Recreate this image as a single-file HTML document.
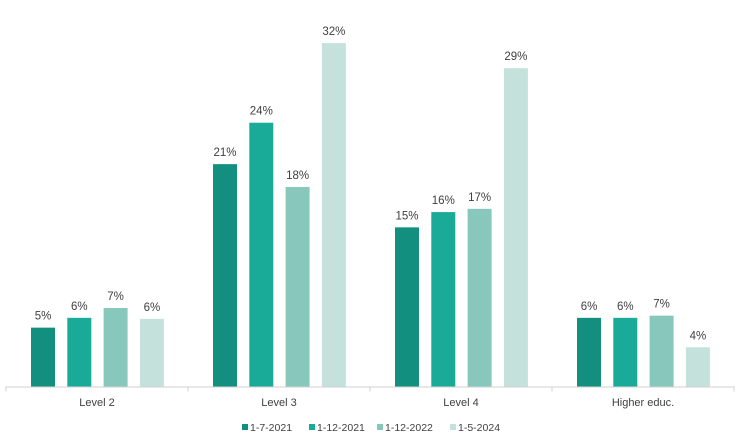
<!DOCTYPE html>
<html><head><meta charset="utf-8"><style>
body{margin:0;background:#fff;font-family:"Liberation Sans",sans-serif}
svg text{font-family:"Liberation Sans",sans-serif;fill:#404040}
</style></head><body>
<svg id="c" width="739" height="440"></svg>
<script>
const categories=["Level 2","Level 3","Level 4","Higher educ."];
const seriesNames=["1-7-2021","1-12-2021","1-12-2022","1-5-2024"];
const s2021a=[5.4,20.4,14.6,6.3];
const s2021b=[6.3,24.2,16.0,6.3];
const s2022=[7.2,18.3,16.3,6.5];
const s2024=[6.2,31.5,29.2,3.6];
const valueLabels=[["5%","21%","15%","6%"],["6%","24%","16%","6%"],["7%","18%","17%","7%"],["6%","32%","29%","4%"]];
const colors=["#138f80","#1aab98","#88c8bc","#c5e1dc"];
const series=[s2021a,s2021b,s2022,s2024];
const NS="http://www.w3.org/2000/svg";
const svg=document.getElementById("c");
const x0=6,x1=734,base=386.5,pxPer=10.9;
const gw=(x1-x0)/categories.length;
const y=v=>base-v*pxPer;
function mk(t,a){const e=document.createElementNS(NS,t);for(const k in a)e.setAttribute(k,a[k]);svg.appendChild(e);return e;}
series.forEach((s,si)=>{s.forEach((v,ci)=>{
const bx=x0+ci*gw+25+si*36.3;
const r=mk("rect",{x:bx,y:y(v),width:24,height:base-y(v),fill:colors[si]});


const t=mk("text",{x:bx+12,y:y(v)-8,"text-anchor":"middle","font-size":"11.5"});
t.textContent=valueLabels[si][ci];


});});
const ax=mk("line",{x1:x0,x2:x1,y1:base+0.5,y2:base+0.5,stroke:"#d0d0d0"});


for(let i=0;i<=categories.length;i++){const tk=mk("line",{x1:x0+i*gw,x2:x0+i*gw,y1:base,y2:base+5,stroke:"#d0d0d0"});

}
categories.forEach((c,i)=>{const t=mk("text",{x:x0+i*gw+gw/2,y:406,"text-anchor":"middle","font-size":"11"});t.textContent=c;

});
const lx=[242,309,377,450];
seriesNames.forEach((n,i)=>{
const r=mk("rect",{x:lx[i],y:424,width:6,height:6,fill:colors[i]});


const t=mk("text",{x:lx[i]+8,y:431,"font-size":"10.5"});t.textContent=n;


});
</script>
</body></html>
